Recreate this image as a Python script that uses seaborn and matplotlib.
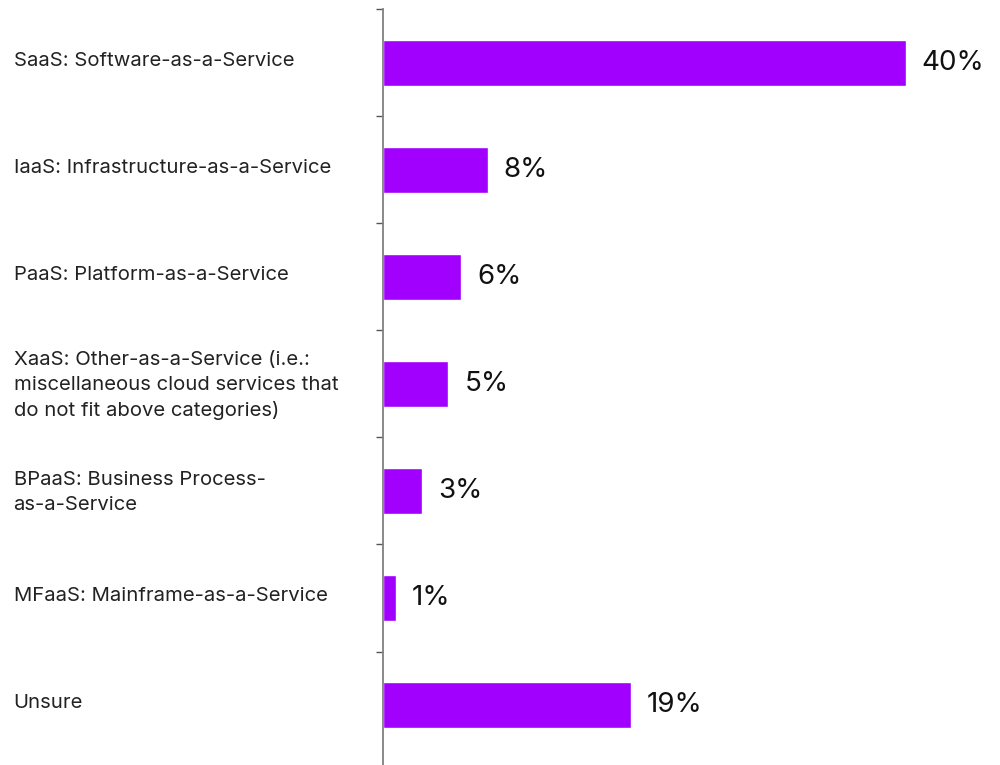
import matplotlib
matplotlib.use("Agg")
import matplotlib.pyplot as plt
import matplotlib.transforms as mtransforms
import seaborn as sns
import pandas as pd

categories = [
    "SaaS: Software-as-a-Service",
    "IaaS: Infrastructure-as-a-Service",
    "PaaS: Platform-as-a-Service",
    "XaaS: Other-as-a-Service (i.e.:\nmiscellaneous cloud services that\ndo not fit above categories)",
    "BPaaS: Business Process-\nas-a-Service",
    "MFaaS: Mainframe-as-a-Service",
    "Unsure",
]
values = [40, 8, 6, 5, 3, 1, 19]

df = pd.DataFrame({"category": categories, "value": values})

sns.set_theme(style="white")
plt.rcParams["font.family"] = ["Inter", "DejaVu Sans"]

fig = plt.figure(figsize=(10, 7.65), dpi=100)
ax = fig.add_axes([0.383, 0.0, 0.597, 0.988])

sns.barplot(data=df, x="value", y="category", orient="h", color="#A100FF",
            saturation=1, width=0.43, ax=ax)

ax.set_xlim(0, 45.7)
ax.set_ylim(6.56, -0.5)

for i, v in enumerate(values):
    ax.text(v + 1.22, i, f"{v}%", va="center", ha="left", fontsize=20,
            color="#111111")

# category labels left-aligned at the figure edge
ax.set_yticks(range(len(categories)))
ax.set_yticklabels(categories, ha="left", fontsize=14.6, color="#222222",
                   linespacing=1.5)
ax.tick_params(axis="y", which="major", length=0, pad=266)
lift = mtransforms.ScaledTranslation(0, 4 / 100, fig.dpi_scale_trans)
for lbl in ax.get_yticklabels():
    lbl.set_transform(lbl.get_transform() + lift)
ax.set_yticks([i - 0.5 for i in range(len(categories))], minor=True)
ax.tick_params(axis="y", which="minor", length=5, width=1, color="#555555",
               left=True)

ax.set_xticks([])
ax.set_xlabel("")
ax.set_ylabel("")
for s in ["top", "right", "bottom"]:
    ax.spines[s].set_visible(False)
ax.spines["left"].set_color("#808080")
ax.spines["left"].set_linewidth(1.3)

fig.savefig("out.png", dpi=100, facecolor="white")
